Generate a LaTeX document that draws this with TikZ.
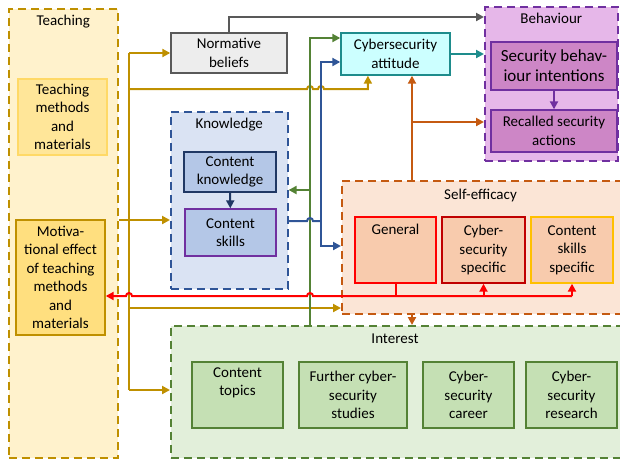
\documentclass[tikz,border=0pt]{standalone}
\usepackage{fontspec}
\setmainfont{Carlito}
\usepackage{xcolor}
\definecolor{gold}      {HTML}{BF9000}
\definecolor{teachbg}   {HTML}{FFF2CC}
\definecolor{teachbox}  {HTML}{FFE699}
\definecolor{teachline} {HTML}{FFD966}
\definecolor{motivbox}  {HTML}{FFDF7F}
\definecolor{normbg}    {HTML}{EDEDED}
\definecolor{normline}  {HTML}{595959}
\definecolor{attbg}     {HTML}{CCFFFF}
\definecolor{teal}      {HTML}{1E8C8C}
\definecolor{behavbg}   {HTML}{E6B7E9}
\definecolor{behavbox}  {HTML}{CD86C6}
\definecolor{purple}    {HTML}{7030A0}
\definecolor{knowbg}    {HTML}{DAE3F3}
\definecolor{knowbox}   {HTML}{B4C7E7}
\definecolor{blue}      {HTML}{2F5597}
\definecolor{darkblue}  {HTML}{203864}
\definecolor{selfbg}    {HTML}{FBE5D6}
\definecolor{selfbox}   {HTML}{F8CBAD}
\definecolor{orange}    {HTML}{C55A11}
\definecolor{darkred}   {HTML}{C00000}
\definecolor{amber}     {HTML}{FFC000}
\definecolor{intbg}     {HTML}{E2EFDA}
\definecolor{intbox}    {HTML}{C5E0B4}
\definecolor{green}     {HTML}{548235}
\usetikzlibrary{arrows.meta,positioning,calc}
\tikzset{ % shared looks
every node/.style={font=\fontsize{15}{18.5}\selectfont},
grp/.style={draw, line width=1.6pt, dash pattern=on 8pt off 5pt, anchor=north west, inner sep=0pt},
box/.style={draw, line width=1.4pt, align=center, inner sep=2pt},
title/.style={inner sep=0pt},
link/.style={line width=2pt},
tip/.style={link, -{Triangle[length=8pt,width=8pt]}},
}

\begin{document}
\begin{tikzpicture}[x=1pt,y=-1pt]
\useasboundingbox (0,0) rectangle (620,459);
% groups
\node [grp, draw=gold, fill=teachbg, minimum width=109pt, minimum height=449pt] (teach) at (8,8) {};
\node [title, below=7pt of teach.north] {Teaching};
\node [grp, draw=purple, fill=behavbg, minimum width=133pt, minimum height=154pt] (behav) at (484,6) {};
\node [title, below=7pt of behav.north] {Behaviour};
\node [grp, draw=blue, fill=knowbg, minimum width=117pt, minimum height=177pt] (know) at (170,111) {};
\node [title, below=7pt of know.north] {Knowledge};
\node [grp, draw=orange, fill=selfbg, minimum width=282pt, minimum height=133pt] (self) at (341,180) {};
\node [title] at (480.5,195) {Self-efficacy};
\node [grp, draw=green, fill=intbg, minimum width=453pt, minimum height=132pt] (int) at (170,325) {};
\node [title] at (395,339) {Interest};
% boxes
\node [box, draw=teachline, fill=teachbox, minimum width=89pt, minimum height=76pt] (meth) at (62.5,117) {Teaching\\methods\\and\\materials};
\node [box, draw=gold, fill=motivbox, minimum width=89pt, minimum height=115pt] (motiv) at (60.5,277.5) {Motiva-\\tional effect\\of teaching\\methods\\and\\materials};
\node [box, draw=normline, fill=normbg, minimum width=116pt, minimum height=40pt] (norm) at (229,53) {Normative\\beliefs};
\node [box, draw=teal, fill=attbg, minimum width=109pt, minimum height=42pt] (att) at (395.5,54) {Cybersecurity\\attitude};
\node [box, draw=purple, fill=behavbox, minimum width=126pt, minimum height=48pt, font=\fontsize{17}{20}\selectfont] (sbi) at (554,66) {Security behav-\\iour intentions};
\node [box, draw=purple, fill=behavbox, minimum width=126pt, minimum height=42pt] (rsa) at (554,131) {Recalled security\\actions};
\node [box, draw=darkblue, fill=knowbox, minimum width=92pt, minimum height=40pt] (ck) at (230,172) {Content\\knowledge};
\node [box, draw=purple, fill=knowbox, minimum width=91pt, minimum height=47pt] (cs) at (230.5,232.5) {Content\\skills};
\node [box, draw=red, fill=selfbox, minimum width=81pt, minimum height=66pt, label={[title, below=8pt]north:General}] (gen) at (395.5,250) {};
\node [box, draw=darkred, fill=selfbox, minimum width=83pt, minimum height=66pt] (css) at (483.5,250) {Cyber-\\security\\specific};
\node [box, draw=amber, fill=selfbox, minimum width=82pt, minimum height=66pt] (cks) at (572,250) {Content\\skills\\specific};
\node [box, draw=green, fill=intbox, minimum width=91pt, minimum height=66pt, label={[title, align=center, below=6pt]north:Content\\topics}] (top) at (237.5,395) {};
\node [box, draw=green, fill=intbox, minimum width=108pt, minimum height=66pt] (stud) at (353,395) {Further cyber-\\security\\studies};
\node [box, draw=green, fill=intbox, minimum width=91pt, minimum height=66pt] (car) at (468.5,395) {Cyber-\\security\\career};
\node [box, draw=green, fill=intbox, minimum width=91pt, minimum height=66pt] (res) at (571.5,395) {Cyber-\\security\\research};
% teaching links
\coordinate (tt) at (129,53);
\coordinate (tb) at (129,390);
\draw [link, gold] (tt) -- (tb);
\draw [tip, gold] (tt) -- (norm.west);
\draw [tip, gold] (teach.east |- 0,220) -- (know.west |- 0,220);
\draw [tip, gold] (tb) -- (int.west |- tb);
\draw [tip, gold] (129,308) -- (self.west |- 0,308);
\draw [tip, gold] (129,89) -- (307,89) arc (180:0:3pt) -- (318,89) arc (180:0:3pt)
    -| ($(att.south west)!.25!(att.south east)$);
% normative beliefs
\draw [tip, normline] (norm.north) |- (behav.west |- 0,17);
% interest
\draw [tip, green] (int.north -| 310,0) |- (att.west |- 0,38);
\draw [tip, green] (310,190) -- (know.east |- 0,190);
% knowledge
\draw [tip, darkblue] (ck) -- (cs);
\draw [link, blue] (know.east |- 0,221) -- (307,221) arc (180:0:3pt) -- (321,221);
\draw [tip, blue] (321,221) |- (att.west |- 0,62);
\draw [tip, blue] (321,221) |- (self.west |- 0,246);
% self-efficacy
\draw [tip, orange] (self.north -| 412,0) -- (att.south -| 412,0);
\draw [tip, orange] (412,122) -- (behav.west |- 0,122);
\draw [tip, orange] (self.south -| 412,0) -- (int.north -| 412,0);
\draw [link, red] (gen.south) -- (gen.south |- 0,296);
\draw [tip, red] (cks.south |- 0,296) -- (313,296) arc (0:180:3pt) -- (132,296) arc (0:180:3pt) -- (motiv.east |- 0,296);
\draw [tip, red] (css.south |- 0,296) -- (css.south);
\draw [tip, red] (cks.south |- 0,296) -- (cks.south);
% behaviour
\draw [tip, teal] (att.east) -- (behav.west |- att.east);
\draw [tip, purple] (sbi) -- (rsa);
\end{tikzpicture}
\end{document}
